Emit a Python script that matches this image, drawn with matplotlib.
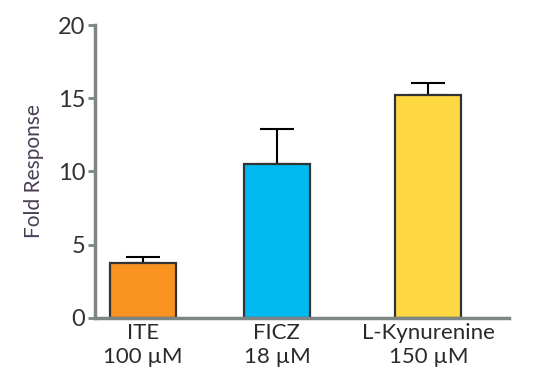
import numpy as np
from matplotlib import pyplot as plt

labels = ["ITE\n100 µM", "FICZ\n18 µM", "L-Kynurenine\n150 µM"]
values = [3.75, 10.5, 15.25]
errors = [0.4, 2.4, 0.8]
colors = ["#f7931e", "#00b9f1", "#fdd843"]

plt.rcParams["font.family"] = ["Lato", "DejaVu Sans"]

positions = np.array([0, 1, 2.13])
axis_gray = "#7d8585"

fig = plt.figure(figsize=(5.43, 3.91), dpi=100)
axis = fig.add_axes([0.175, 0.187, 0.762, 0.749])

axis.bar(positions, values, width=0.49, color=colors, edgecolor="#333333",
         linewidth=1.6, zorder=2)
axis.errorbar(positions, values, yerr=[np.zeros(3), errors], fmt="none",
              ecolor="black", elinewidth=1.5, capsize=12, capthick=1.5, zorder=1)

axis.set_xlim(-0.358, 2.731)
axis.set_ylim(0, 20)
axis.set_yticks([0, 5, 10, 15, 20])
axis.set_xticks(positions)
axis.set_xticklabels(labels, fontsize=16, color="#2a2a2a", linespacing=1.2)
axis.tick_params(axis="x", length=0, pad=4)
axis.tick_params(axis="y", length=5, width=2, color=axis_gray, labelsize=17,
                 labelcolor="#333333", pad=2)

for side in ["top", "right"]:
    axis.spines[side].set_visible(False)
for side in ["left", "bottom"]:
    axis.spines[side].set_color(axis_gray)
    axis.spines[side].set_linewidth(2.5)

axis.set_ylabel("Fold Response", fontsize=15, color="#4a3d55", labelpad=10)

fig.savefig("out.png", dpi=100)
